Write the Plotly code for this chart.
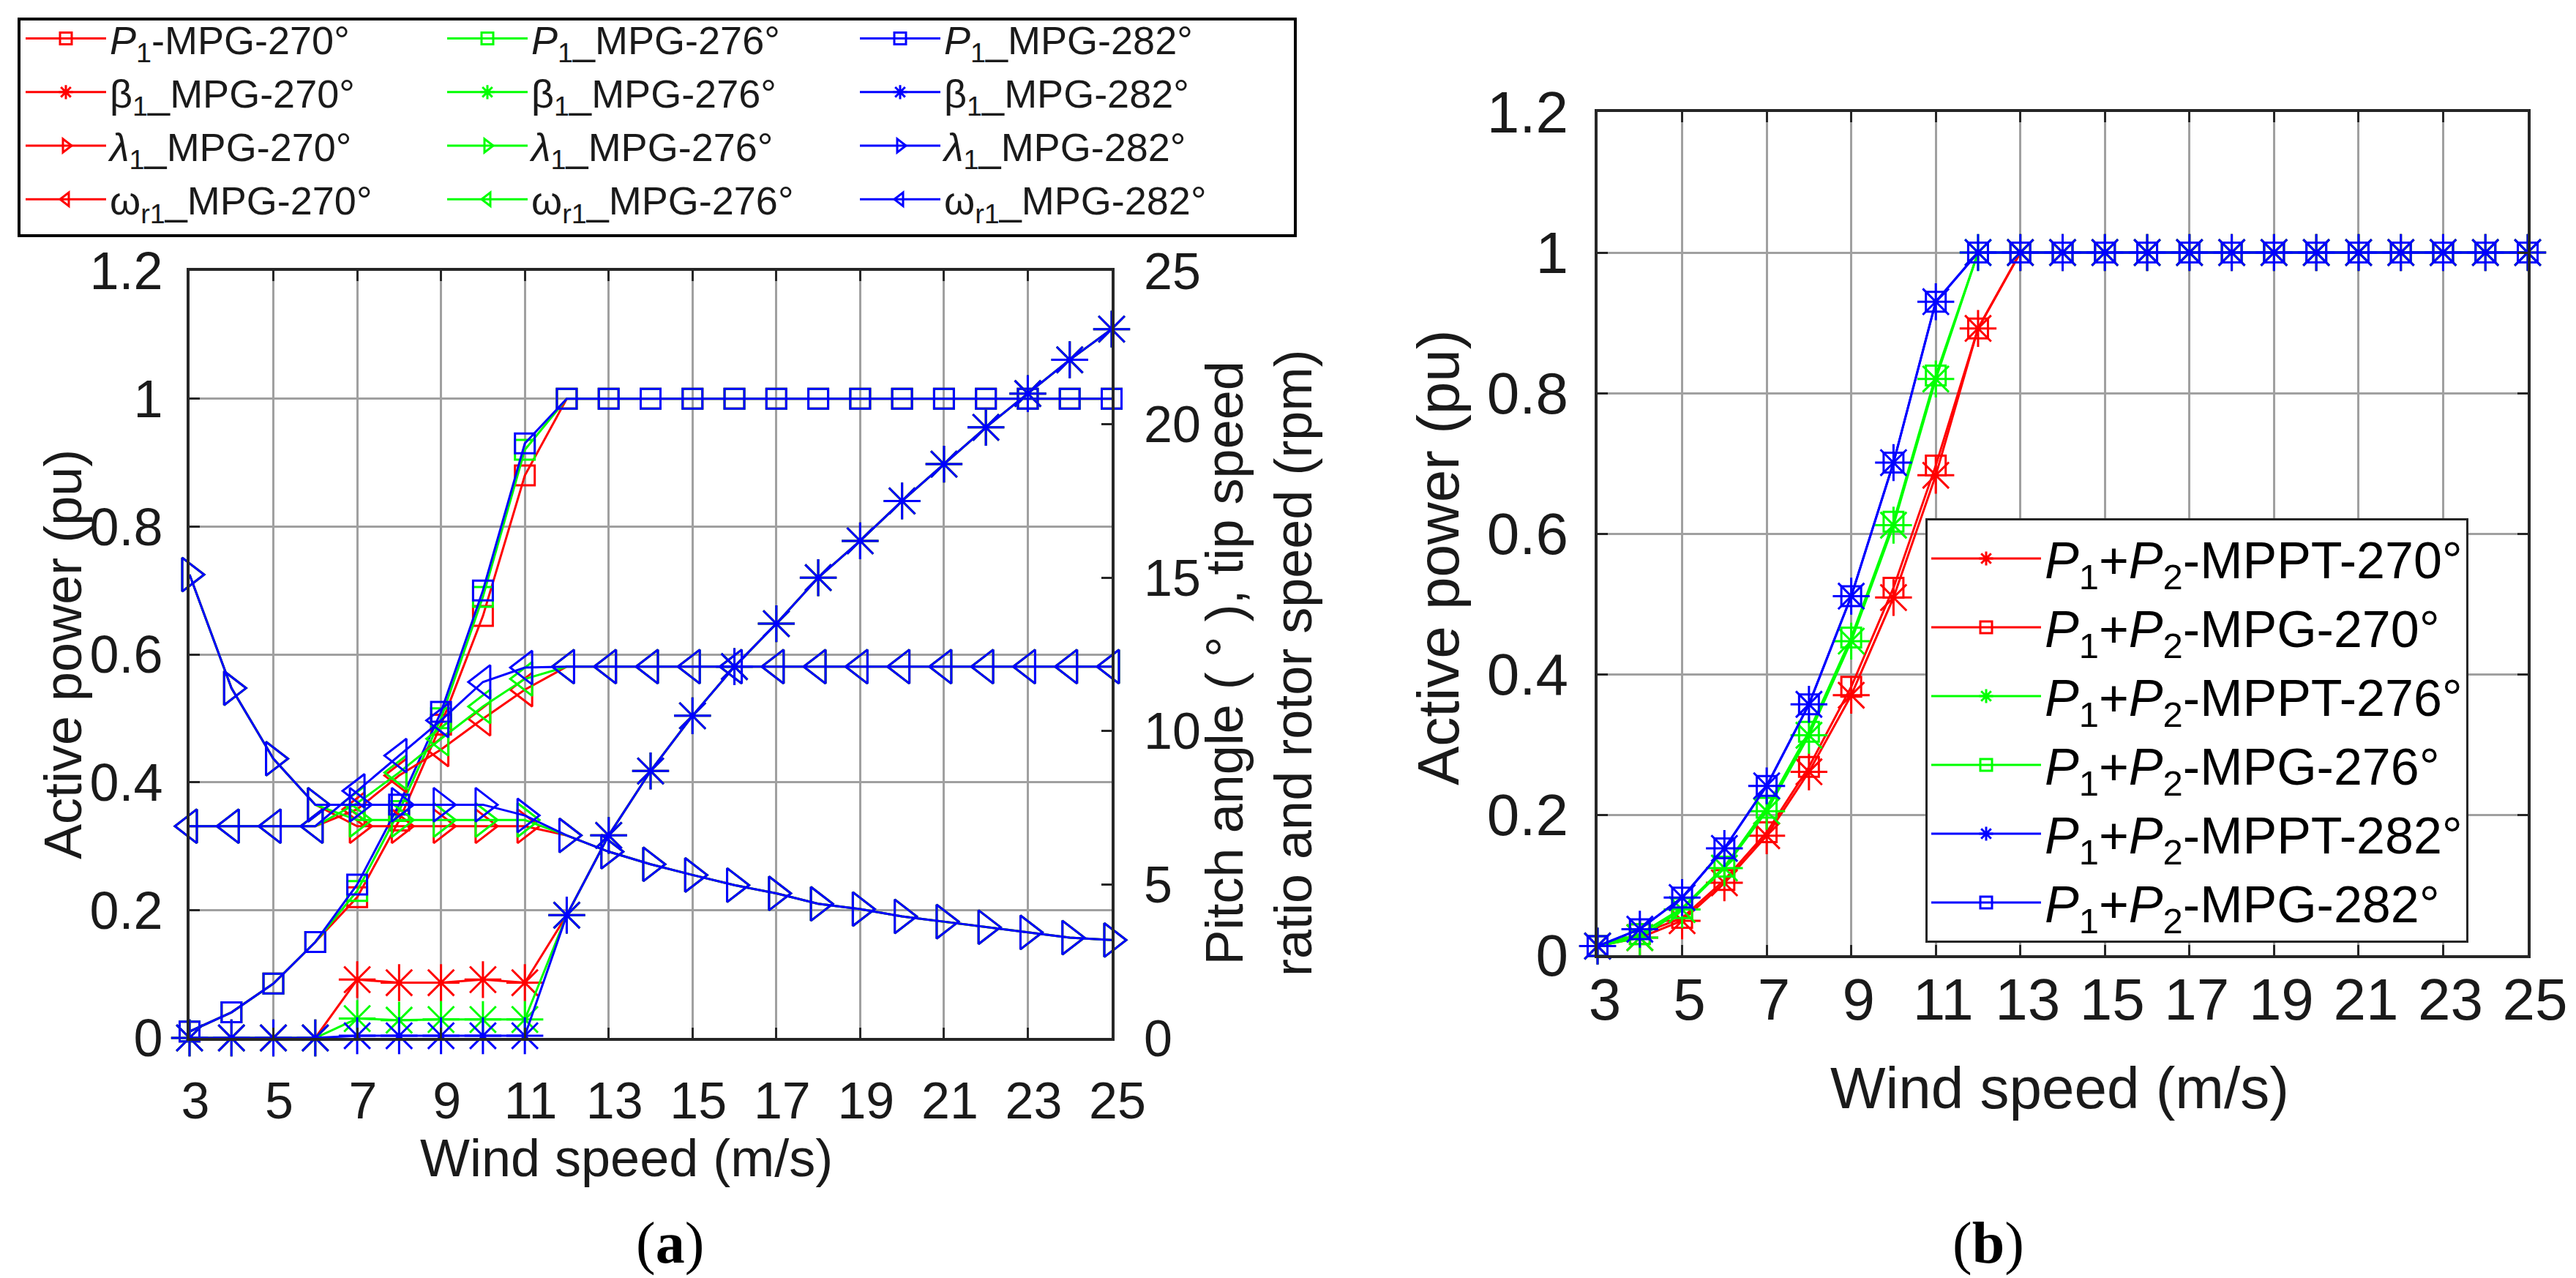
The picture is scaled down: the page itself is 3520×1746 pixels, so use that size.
import plotly.graph_objects as go

# wind speed (m/s)
wind = [3, 4, 5, 6, 7, 8, 9, 10, 11, 12, 13, 14, 15, 16, 17, 18, 19, 20, 21, 22, 23, 24, 25]
xticks = [3, 5, 7, 9, 11, 13, 15, 17, 19, 21, 23, 25]

# (a) active power of turbine 1 (pu)
p1_270 = [0.01, 0.04, 0.085, 0.15, 0.22, 0.34, 0.49, 0.66, 0.88, 1, 1, 1, 1, 1, 1, 1, 1, 1, 1, 1, 1, 1, 1]
p1_276 = [0.01, 0.04, 0.085, 0.15, 0.23, 0.355, 0.50, 0.69, 0.92, 1, 1, 1, 1, 1, 1, 1, 1, 1, 1, 1, 1, 1, 1]
p1_282 = [0.01, 0.04, 0.085, 0.15, 0.24, 0.365, 0.51, 0.70, 0.93, 1, 1, 1, 1, 1, 1, 1, 1, 1, 1, 1, 1, 1, 1]

# (a) pitch angle (deg)
beta_270 = [0, 0, 0, 0, 1.9, 1.8, 1.8, 1.9, 1.8, 4.0, 6.6, 8.7, 10.5, 12.1, 13.5, 15.0, 16.2, 17.5, 18.7, 19.9, 21.0, 22.1, 23.1]
beta_276 = [0, 0, 0, 0, 0.63, 0.58, 0.6, 0.6, 0.6, 4.0, 6.6, 8.7, 10.5, 12.1, 13.5, 15.0, 16.2, 17.5, 18.7, 19.9, 21.0, 22.1, 23.1]
beta_282 = [0, 0, 0, 0, 0.07, 0.07, 0.07, 0.07, 0.07, 4.0, 6.6, 8.7, 10.5, 12.1, 13.5, 15.0, 16.2, 17.5, 18.7, 19.9, 21.0, 22.1, 23.1]

# (a) tip speed ratio
lam_270 = [15.1, 11.4, 9.1, 7.6, 6.9, 6.9, 6.9, 6.9, 6.9, 6.6, 6.07, 5.66, 5.31, 4.98, 4.71, 4.37, 4.2, 3.96, 3.79, 3.61, 3.44, 3.27, 3.19]
lam_276 = [15.1, 11.4, 9.1, 7.6, 7.1, 7.1, 7.1, 7.1, 7.1, 6.6, 6.07, 5.66, 5.31, 4.98, 4.71, 4.37, 4.2, 3.96, 3.79, 3.61, 3.44, 3.27, 3.19]
lam_282 = [15.1, 11.4, 9.1, 7.6, 7.6, 7.6, 7.6, 7.6, 7.25, 6.6, 6.07, 5.66, 5.31, 4.98, 4.71, 4.37, 4.2, 3.96, 3.79, 3.61, 3.44, 3.27, 3.19]

# (a) rotor speed (rpm)
w_270 = [6.9, 6.9, 6.9, 6.9, 7.45, 8.55, 9.4, 10.4, 11.35, 12.1, 12.1, 12.1, 12.1, 12.1, 12.1, 12.1, 12.1, 12.1, 12.1, 12.1, 12.1, 12.1, 12.1]
w_276 = [6.9, 6.9, 6.9, 6.9, 7.65, 8.65, 9.75, 10.8, 11.7, 12.1, 12.1, 12.1, 12.1, 12.1, 12.1, 12.1, 12.1, 12.1, 12.1, 12.1, 12.1, 12.1, 12.1]
w_282 = [6.9, 6.9, 6.9, 6.9, 8.05, 9.2, 10.35, 11.6, 12.07, 12.1, 12.1, 12.1, 12.1, 12.1, 12.1, 12.1, 12.1, 12.1, 12.1, 12.1, 12.1, 12.1, 12.1]

# (b) total active power P1+P2 (pu)
mppt_270 = [0.013, 0.025, 0.049, 0.103, 0.17, 0.261, 0.370, 0.509, 0.683, 0.892, 1, 1, 1, 1, 1, 1, 1, 1, 1, 1, 1, 1, 1]
mpg_270 = [0.013, 0.03, 0.053, 0.107, 0.175, 0.268, 0.382, 0.523, 0.697, 0.892, 1, 1, 1, 1, 1, 1, 1, 1, 1, 1, 1, 1, 1]
mppt_276 = [0.013, 0.025, 0.065, 0.124, 0.205, 0.313, 0.447, 0.612, 0.82, 1, 1, 1, 1, 1, 1, 1, 1, 1, 1, 1, 1, 1, 1]
mpg_276 = [0.013, 0.03, 0.067, 0.126, 0.21, 0.318, 0.452, 0.617, 0.825, 1, 1, 1, 1, 1, 1, 1, 1, 1, 1, 1, 1, 1, 1]
mppt_282 = [0.013, 0.037, 0.082, 0.152, 0.241, 0.357, 0.511, 0.701, 0.93, 1, 1, 1, 1, 1, 1, 1, 1, 1, 1, 1, 1, 1, 1]
mpg_282 = [0.013, 0.037, 0.082, 0.152, 0.241, 0.357, 0.511, 0.701, 0.93, 1, 1, 1, 1, 1, 1, 1, 1, 1, 1, 1, 1, 1, 1]

RED, GREEN, BLUE = "#ff0000", "#00ff00", "#0000ff"
FONT = "Liberation Sans, Arial, sans-serif"
TXT = "#1a1a1a"
W, H = 3520, 1746

fig = go.Figure()

def add(y, name, color, symbol, size, xa, ya, legend):
    fig.add_trace(go.Scatter(
        x=wind, y=y, name=name, mode="lines+markers",
        line=dict(color=color, width=3),
        marker=dict(symbol=symbol, size=size, color=color, line=dict(color=color, width=3)),
        xaxis=xa, yaxis=ya, legend=legend, cliponaxis=False,
    ))

# panel (a)
groups = [
    ("270", RED, "legend", p1_270, beta_270, lam_270, w_270, "-"),
    ("276", GREEN, "legend2", p1_276, beta_276, lam_276, w_276, "_"),
    ("282", BLUE, "legend3", p1_282, beta_282, lam_282, w_282, "_"),
]
for ang, col, leg, p1, be, la, wr, sep in groups:
    add(p1, f"<i>P</i><sub>1</sub>{sep}MPG-{ang}°", col, "square-open", 27, "x", "y", leg)
    add(be, f"β<sub>1</sub>_MPG-{ang}°", col, "asterisk-open", 42, "x", "y3", leg)
    add(la, f"<i>λ</i><sub>1</sub>_MPG-{ang}°", col, "triangle-right-open", 40, "x", "y3", leg)
    add(wr, f"ω<sub>r1</sub>_MPG-{ang}°", col, "triangle-left-open", 40, "x", "y3", leg)

# panel (b)
for ang, col, mppt, mpg in [("270", RED, mppt_270, mpg_270), ("276", GREEN, mppt_276, mpg_276),
                            ("282", BLUE, mppt_282, mpg_282)]:
    add(mppt, f"<i>P</i><sub>1</sub>+<i>P</i><sub>2</sub>-MPPT-{ang}°", col, "asterisk-open", 42, "x2", "y2", "legend4")
    add(mpg, f"<i>P</i><sub>1</sub>+<i>P</i><sub>2</sub>-MPG-{ang}°", col, "square-open", 27, "x2", "y2", "legend4")

axis_common = dict(
    showline=True, linecolor="#262626", linewidth=4,
    ticks="inside", ticklen=14, tickwidth=3, tickcolor="#262626",
    showgrid=True, gridcolor="#a0a0a0", gridwidth=3, zeroline=False, automargin=False,
)

fig.update_layout(
    width=W, height=H,
    margin=dict(l=0, r=0, t=0, b=0, autoexpand=False),
    paper_bgcolor="white", plot_bgcolor="white",
    font=dict(family=FONT, color=TXT, size=70),
    xaxis=dict(axis_common, domain=[251 / W, 1511 / W], range=[3, 25], tickvals=xticks,
               anchor="y", mirror="ticks", tickfont=dict(size=70), ticklabelstandoff=22,
               ticklabelshift=8),
    yaxis=dict(axis_common, domain=[1 - 1410 / H, 1 - 362 / H], range=[0, 1.2], dtick=0.2,
               anchor="x", tickfont=dict(size=72), ticklabelstandoff=18),
    yaxis3=dict(axis_common, overlaying="y", side="right", anchor="x", range=[0, 25],
                tickvals=[0, 5, 10, 15, 20, 25], showgrid=False, tickfont=dict(size=70),
                ticklabelstandoff=26),
    xaxis2=dict(axis_common, domain=[2175 / W, 3446 / W], range=[3, 25], tickvals=xticks,
                anchor="y2", mirror="ticks", tickfont=dict(size=80), ticklabelstandoff=-12,
                ticklabelshift=10),
    yaxis2=dict(axis_common, domain=[1 - 1297 / H, 1 - 145 / H], range=[0, 1.2], dtick=0.2,
                anchor="x2", mirror="ticks", tickfont=dict(size=80), ticklabelstandoff=20),
    showlegend=True,
)

leg_a = dict(xanchor="left", yanchor="top", y=1 - 3 / H, bgcolor="rgba(0,0,0,0)", borderwidth=0,
             font=dict(size=54, family=FONT, color=TXT), itemwidth=110, tracegroupgap=0)
fig.update_layout(
    legend=dict(leg_a, x=22 / W),
    legend2=dict(leg_a, x=598 / W),
    legend3=dict(leg_a, x=1162 / W),
    legend4=dict(xanchor="left", yanchor="top", x=2623 / W, y=1 - 700 / H, bgcolor="white",
                 bordercolor="#262626", borderwidth=3, font=dict(size=70, family=FONT, color="black"),
                 itemwidth=150, tracegroupgap=0),
)

# frame round the three legend columns of panel (a)
fig.add_shape(type="rect", xref="paper", yref="paper", x0=18 / W, x1=1762 / W, y0=1 - 314 / H, y1=1 - 18 / H,
              line=dict(color="black", width=4), fillcolor="rgba(0,0,0,0)")

ann = [
    dict(text="Active power (pu)", x=78 / W, y=1 - 886 / H, textangle=-90, size=72),
    dict(text="Pitch angle ( ° ), tip speed<br>ratio and rotor speed (rpm)", x=1712 / W, y=1 - 898 / H,
         textangle=-90, size=72),
    dict(text="Wind speed (m/s)", x=848 / W, y=1 - 1574 / H, textangle=0, size=72),
    dict(text="Active power (pu)", x=1957 / W, y=1 - 754 / H, textangle=-90, size=80),
    dict(text="Wind speed (m/s)", x=2806 / W, y=1 - 1478 / H, textangle=0, size=80),
]
for a in ann:
    fig.add_annotation(text=a["text"], x=a["x"], y=a["y"], xref="paper", yref="paper",
                       xanchor="center", yanchor="middle", textangle=a["textangle"], showarrow=False,
                       font=dict(family=FONT, size=a["size"], color=TXT))

for lab, xc in [("(<b>a</b>)", 908), ("(<b>b</b>)", 2709)]:
    fig.add_annotation(text=lab, x=xc / W, y=1 - 1690 / H, xref="paper", yref="paper",
                       xanchor="center", yanchor="middle", showarrow=False,
                       font=dict(family="Liberation Serif, Times New Roman, serif", size=80, color="black"))

fig.write_html("out.html")
